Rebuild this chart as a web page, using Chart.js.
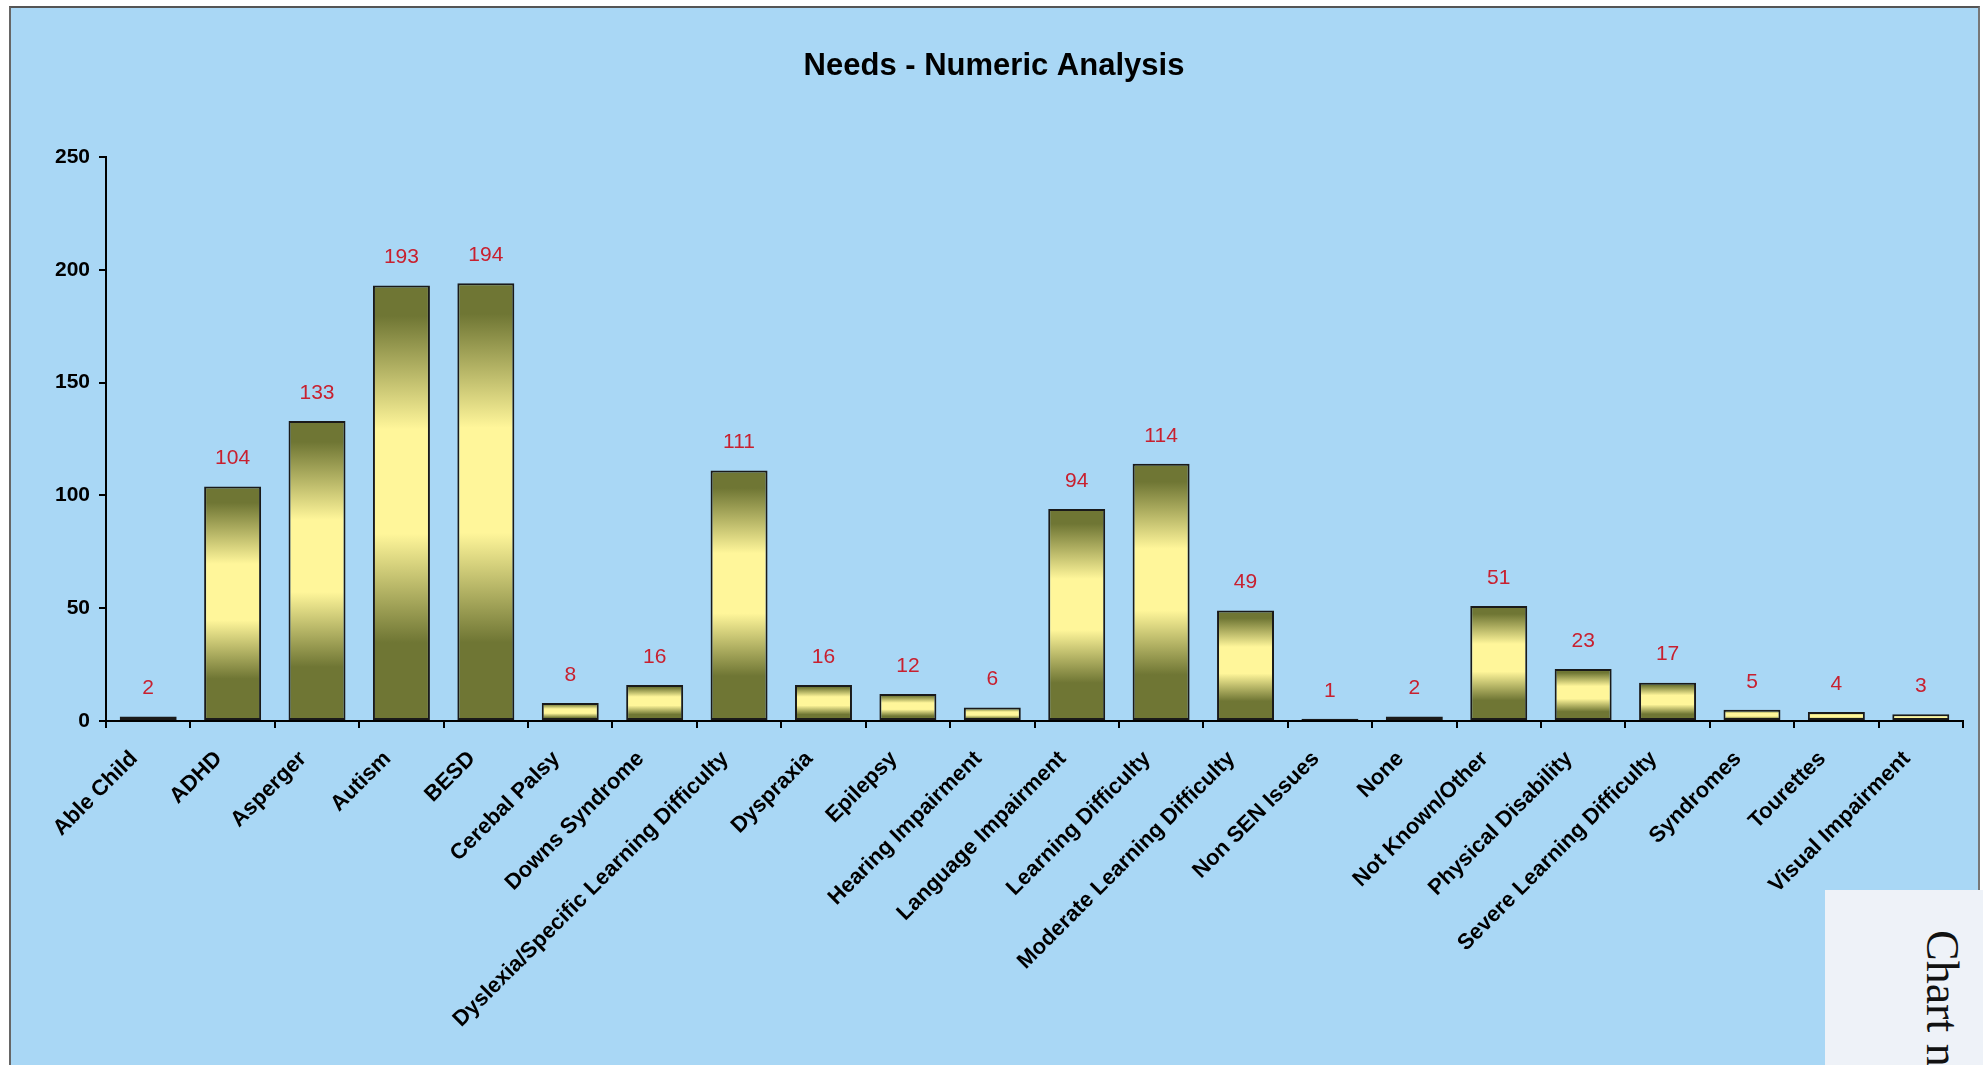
<!DOCTYPE html>
<html><head><meta charset="utf-8">
<script src="https://cdn.jsdelivr.net/npm/chart.js@4.4.1/dist/chart.umd.min.js"></script>
<style>
html,body{margin:0;padding:0;background:#fff;width:1983px;height:1065px;overflow:hidden;}
#frame{position:absolute;left:9px;top:6px;width:1967px;height:1070px;background:#A9D7F5;border-left:2px solid #666;border-top:2px solid #555;border-right:2px solid #777;}
#wrap{position:absolute;left:0;top:0;width:1983px;height:1065px;}
#note{position:absolute;left:1825px;top:890px;width:158px;height:175px;background:#EEF2F8;overflow:hidden;}
#note span{position:absolute;left:140px;top:40px;transform:rotate(90deg);transform-origin:0 0;font-family:"Liberation Serif","DejaVu Serif",serif;font-size:46px;line-height:46px;color:#111;white-space:nowrap;}
</style>
</head><body>
<div id="frame"></div>
<div id="wrap"><canvas id="c" width="1983" height="1065"></canvas></div>
<div id="note"><span>Chart n</span></div>
<script>
const chartTitle = 'Needs - Numeric Analysis';
const categories = ['Able Child','ADHD','Asperger','Autism','BESD','Cerebal Palsy','Downs Syndrome','Dyslexia/Specific Learning Difficulty','Dyspraxia','Epilepsy','Hearing Impairment','Language Impairment','Learning Difficulty','Moderate Learning Difficulty','Non SEN Issues','None','Not Known/Other','Physical Disability','Severe Learning Difficulty','Syndromes','Tourettes','Visual Impairment'];
const counts = [2,104,133,193,194,8,16,111,16,12,6,94,114,49,1,2,51,23,17,5,4,3];
const yTicks = [0,50,100,150,200,250];

const FONT = '"Liberation Sans", Arial, sans-serif';
const DARK = '#6F7634';
const LIGHT = '#FFF69A';

function barFill(ctx){
  const chart = ctx.chart;
  const y = chart.scales && chart.scales.y;
  if (!chart.chartArea || !y || ctx.raw == null) return LIGHT;
  const top = y.getPixelForValue(ctx.raw);
  const base = y.getPixelForValue(0);
  if (!isFinite(top) || !isFinite(base) || Math.abs(base - top) < 1) return LIGHT;
  const g = chart.ctx.createLinearGradient(0, top, 0, base);
  g.addColorStop(0, DARK);
  g.addColorStop(0.07, DARK);
  g.addColorStop(0.33, LIGHT);
  g.addColorStop(0.57, LIGHT);
  g.addColorStop(0.82, DARK);
  g.addColorStop(1, DARK);
  return g;
}

const titleAndLabels = {
  id: 'titleAndLabels',
  afterDatasetsDraw(chart){
    const ctx = chart.ctx;
    const meta = chart.getDatasetMeta(0);
    ctx.save();
    ctx.font = '21px ' + FONT;
    ctx.fillStyle = '#C8202F';
    ctx.textAlign = 'center';
    ctx.textBaseline = 'middle';
    meta.data.forEach((bar, i) => {
      ctx.fillText(String(counts[i]), bar.x, bar.y - 28);
    });
    ctx.font = 'bold 31px ' + FONT;
    ctx.fillStyle = '#000';
    ctx.fillText(chartTitle, 994, 66);
    ctx.restore();
  }
};

new Chart(document.getElementById('c'), {
  type: 'bar',
  data: {
    labels: categories,
    datasets: [{
      data: counts,
      backgroundColor: barFill,
      borderColor: '#1A1A1A',
      borderWidth: 2,
      borderSkipped: false,
      barPercentage: 0.9,
      categoryPercentage: 0.75
    }]
  },
  options: {
    responsive: false,
    devicePixelRatio: 1,
    animation: false,
    layout: { padding: { left: 0, right: 20, top: 157, bottom: 0 } },
    plugins: {
      legend: { display: false },
      tooltip: { enabled: false },
      title: { display: false }
    },
    scales: {
      x: {
        grid: { display: true, drawOnChartArea: false, drawTicks: true, tickLength: 7, color: '#000', lineWidth: 2, offset: true },
        border: { display: true, color: '#000', width: 2 },
        ticks: { autoSkip: false, minRotation: 45, maxRotation: 45, color: '#000', font: { family: FONT, size: 22, weight: 'bold' }, padding: 18, labelOffset: -14 },
        afterFit(s){ s.height = 344; }
      },
      y: {
        min: 0, max: 250,
        afterBuildTicks(s){ s.ticks = yTicks.map(v => ({ value: v })); },
        ticks: { color: '#000', font: { family: FONT, size: 21, weight: 'bold' }, padding: 9 },
        grid: { display: true, drawOnChartArea: false, drawTicks: true, tickLength: 7, color: '#000', lineWidth: 2 },
        border: { display: true, color: '#000', width: 2 },
        afterFit(s){ s.width = 106; }
      }
    }
  },
  plugins: [titleAndLabels]
});
</script>
</body></html>
